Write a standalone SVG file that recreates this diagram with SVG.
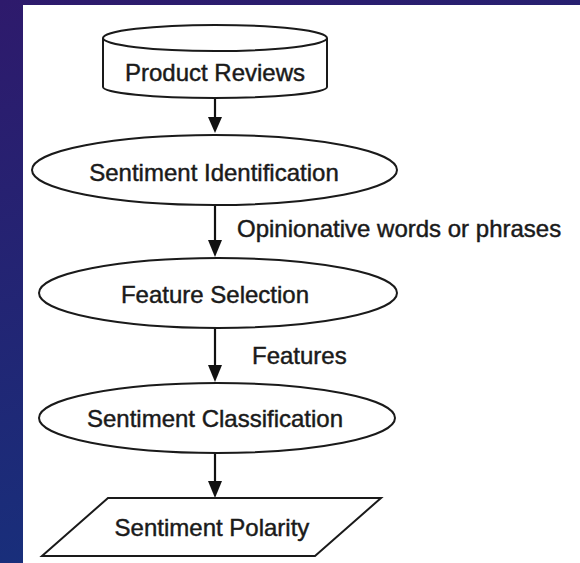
<svg xmlns="http://www.w3.org/2000/svg" width="580" height="563" viewBox="0 0 580 563">
<defs>
<linearGradient id="bg" x1="0" y1="0" x2="0.3" y2="1">
<stop offset="0" stop-color="#2e1a6c"/>
<stop offset="1" stop-color="#17307c"/>
</linearGradient>
<style>
.shape{fill:#fff;stroke:#1a1a1a;stroke-width:2}
.lbl{font-family:"Liberation Sans",Arial,sans-serif;font-size:24px;fill:#1a1a1a;stroke:#1a1a1a;stroke-width:0.45;text-anchor:middle;dominant-baseline:central}
.elbl{font-family:"Liberation Sans",Arial,sans-serif;font-size:24px;fill:#1a1a1a;stroke:#1a1a1a;stroke-width:0.45;dominant-baseline:central}
.conn{stroke:#111;stroke-width:2.2;fill:none}
.head{fill:#111}
</style>
</defs>
<rect x="0" y="0" width="580" height="563" fill="url(#bg)"/>
<rect x="23" y="5" width="557" height="558" fill="#fff"/>
<g id="connectors">
<line class="conn" x1="215" y1="98" x2="215" y2="118"/>
<path class="head" d="M208,117 L222,117 L215,133 Z"/>
<line class="conn" x1="215" y1="205" x2="215" y2="241"/>
<path class="head" d="M208,240 L222,240 L215,257 Z"/>
<line class="conn" x1="215" y1="328" x2="215" y2="366"/>
<path class="head" d="M208,365 L222,365 L215,382 Z"/>
<line class="conn" x1="215" y1="453" x2="215" y2="482"/>
<path class="head" d="M208,481 L222,481 L215,498 Z"/>
<text class="elbl" x="237" y="228">Opinionative words or phrases</text>
<text class="elbl" x="252" y="355">Features</text>
</g>
<g id="product-reviews">
<path class="shape" d="M103,38 L103,87 A112,11 0 0 0 327,87 L327,38"/>
<ellipse class="shape" cx="215" cy="38" rx="112" ry="13"/>
<text class="lbl" x="215" y="72">Product Reviews</text>
</g>
<g id="sentiment-identification">
<ellipse class="shape" cx="214.5" cy="170" rx="182.5" ry="35"/>
<text class="lbl" x="214" y="172">Sentiment Identification</text>
</g>
<g id="feature-selection">
<ellipse class="shape" cx="218" cy="293" rx="179" ry="35"/>
<text class="lbl" x="215" y="294">Feature Selection</text>
</g>
<g id="sentiment-classification">
<ellipse class="shape" cx="217" cy="418" rx="178" ry="35"/>
<text class="lbl" x="215" y="418">Sentiment Classification</text>
</g>
<g id="sentiment-polarity">
<path class="shape" d="M108,498 L381,498 L315,556 L42,556 Z"/>
<text class="lbl" x="212" y="527">Sentiment Polarity</text>
</g>
</svg>
